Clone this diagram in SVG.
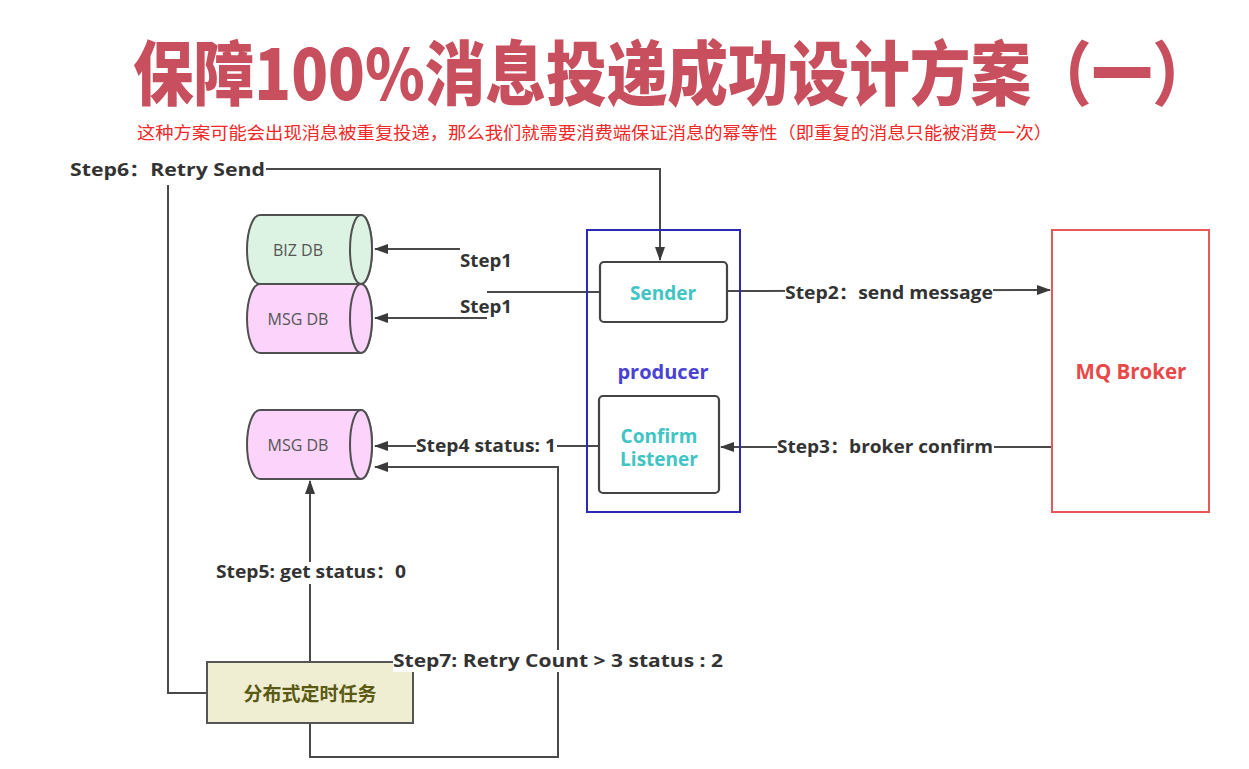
<svg xmlns="http://www.w3.org/2000/svg" width="1249" height="769" viewBox="0 0 1249 769">
<style>
.title{font-family:"Noto Sans CJK SC","Noto Sans",sans-serif;font-weight:900;fill:#c8505e}
.sub{font-family:"Noto Sans CJK SC",sans-serif;fill:#f02828;font-size:17px}
.lbl{font-family:"Open Sans","Noto Sans CJK SC",sans-serif;font-weight:700;fill:#333;font-size:17px}
.db{stroke:#505050;stroke-width:2}
.dbt{font-family:"Open Sans",sans-serif;font-size:16px;fill:#555;text-anchor:middle}
.ln{fill:none;stroke:#4a4a4a;stroke-width:2}
.box{fill:#fff;stroke:#444;stroke-width:2.2}
.teal{font-family:"Open Sans",sans-serif;font-weight:700;fill:#40c4c4;font-size:19px;text-anchor:middle}
.bg{fill:#fff}
</style>
<defs>
<marker id="ah" viewBox="0 0 14 10" refX="13" refY="5" markerWidth="14" markerHeight="10" markerUnits="userSpaceOnUse" orient="auto">
<path d="M0,0 L14,5 L0,10 Z" fill="#3a3a3a"/>
</marker>
</defs>
<rect width="1249" height="769" fill="#fff"/>
<g id="title">
<text class="title" x="133" y="100" font-size="70" textLength="1080" lengthAdjust="spacingAndGlyphs">保障100%消息投递成功设计方案（一）</text>
<text class="sub" x="137" y="139" textLength="915" lengthAdjust="spacingAndGlyphs">这种方案可能会出现消息被重复投递，那么我们就需要消费端保证消息的幂等性（即重复的消息只能被消费一次）</text>
</g>
<g id="connectors">
<polyline class="ln" points="266,169 660,169 660,260" marker-end="url(#ah)"/>
<polyline class="ln" points="168,185 168,693 207,693"/>
<line class="ln" x1="460" y1="249" x2="375" y2="249" marker-end="url(#ah)"/>
<line class="ln" x1="487" y1="292" x2="600" y2="292"/>
<line class="ln" x1="487" y1="318" x2="375" y2="318" marker-end="url(#ah)"/>
<line class="ln" x1="727" y1="291" x2="1050" y2="290" marker-end="url(#ah)"/>
<line class="ln" x1="1052" y1="447" x2="721" y2="447" marker-end="url(#ah)"/>
<line class="ln" x1="599" y1="446" x2="375" y2="446" marker-end="url(#ah)"/>
<line class="ln" x1="310" y1="662" x2="310" y2="481" marker-end="url(#ah)"/>
<polyline class="ln" points="310,723 310,757 558,757 558,467 375,467" marker-end="url(#ah)"/>
<line class="ln" x1="310" y1="662" x2="395" y2="662"/>
</g>
<g id="biz-db">
<path class="db" fill="#dcf2e2" d="M260,215 L361,215 A11,34.5 0 0 1 361,284 L260,284 A13,34.5 0 0 1 260,215 Z"/>
<ellipse class="db" fill="#dcf2e2" cx="361" cy="249.5" rx="11" ry="34.5"/>
<text class="dbt" x="298" y="256">BIZ DB</text>
</g>
<g id="msg-db-1">
<path class="db" fill="#fbd3fb" d="M260,284 L361,284 A11,34.5 0 0 1 361,353 L260,353 A13,34.5 0 0 1 260,284 Z"/>
<ellipse class="db" fill="#fbd3fb" cx="361" cy="318.5" rx="11" ry="34.5"/>
<text class="dbt" x="298" y="325">MSG DB</text>
</g>
<g id="msg-db-2">
<path class="db" fill="#fbd3fb" d="M260,410 L361,410 A11,34.5 0 0 1 361,479 L260,479 A13,34.5 0 0 1 260,410 Z"/>
<ellipse class="db" fill="#fbd3fb" cx="361" cy="444.5" rx="11" ry="34.5"/>
<text class="dbt" x="298" y="451">MSG DB</text>
</g>
<g id="producer">
<rect x="587" y="230" width="153" height="282" fill="none" stroke="#2a2ab4" stroke-width="2"/>
<text x="663" y="379" font-family="Open Sans,sans-serif" font-weight="700" font-size="20" fill="#4a42d2" text-anchor="middle">producer</text>
</g>
<g id="sender">
<rect class="box" x="600" y="262" width="127" height="60" rx="4"/>
<text class="teal" x="663" y="300">Sender</text>
</g>
<g id="confirm-listener">
<rect class="box" x="599" y="396" width="120" height="97" rx="4"/>
<text class="teal" x="659" y="443">Confirm</text>
<text class="teal" x="659" y="466">Listener</text>
</g>
<g id="mq-broker">
<rect x="1052" y="230" width="157" height="282" fill="#fff" stroke="#e85858" stroke-width="2"/>
<text x="1131" y="379" font-family="Open Sans,sans-serif" font-weight="700" font-size="20.5" fill="#e84848" text-anchor="middle">MQ Broker</text>
</g>
<g id="task">
<rect x="207" y="662" width="206" height="61" fill="#f0eed2" stroke="#555" stroke-width="2"/>
<text x="310" y="701" font-family="Noto Sans CJK SC,sans-serif" font-weight="700" font-size="19" fill="#5a5a14" text-anchor="middle">分布式定时任务</text>
</g>
<g id="labels">
<text class="lbl" x="70" y="176" textLength="195" lengthAdjust="spacingAndGlyphs">Step6：Retry Send</text>
<text class="lbl" x="460" y="267" textLength="52" lengthAdjust="spacingAndGlyphs">Step1</text>
<text class="lbl" x="460" y="313" textLength="52" lengthAdjust="spacingAndGlyphs">Step1</text>
<rect class="bg" x="785" y="282" width="208" height="20"/>
<text class="lbl" x="785" y="299" textLength="208" lengthAdjust="spacingAndGlyphs">Step2：send message</text>
<rect class="bg" x="777" y="437" width="217" height="20"/>
<text class="lbl" x="777" y="453" textLength="216" lengthAdjust="spacingAndGlyphs">Step3：broker confirm</text>
<rect class="bg" x="416" y="436" width="141" height="20"/>
<text class="lbl" x="416" y="452" textLength="140" lengthAdjust="spacingAndGlyphs">Step4 status: 1</text>
<rect class="bg" x="216" y="562" width="190" height="22"/>
<text class="lbl" x="216" y="578" textLength="190" lengthAdjust="spacingAndGlyphs">Step5: get status：0</text>
<rect class="bg" x="393" y="650" width="331" height="22"/>
<text class="lbl" x="393" y="667" textLength="330" lengthAdjust="spacingAndGlyphs">Step7: Retry Count &gt; 3 status : 2</text>
</g>
</svg>
